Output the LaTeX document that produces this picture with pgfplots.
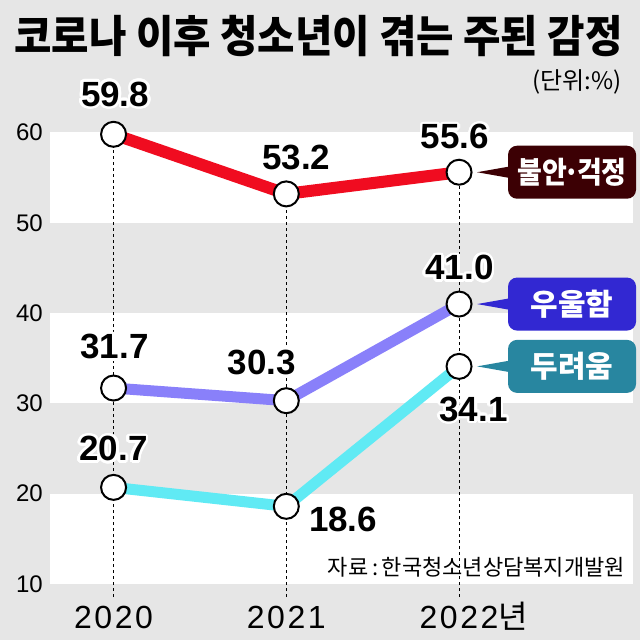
\documentclass[border=0pt]{standalone}
\usepackage{graphicx}
\usepackage{pgfplots}
\pgfplotsset{compat=1.18}
\usepackage{pgfplotstable}
\usepackage{fontspec}
\setmainfont{Liberation Sans}
\newfontfamily\kr{Noto Sans CJK KR}
\usepackage[copies]{contour}
\contourlength{2.6pt}
\contournumber{32}

\definecolor{bg}{RGB}{230,230,230}
\definecolor{cRed}{RGB}{240,12,32}
\definecolor{cPurple}{RGB}{137,128,250}
\definecolor{cCyan}{RGB}{96,234,244}
\definecolor{bRed}{RGB}{60,0,4}
\definecolor{bBlue}{RGB}{50,40,210}
\definecolor{bTeal}{RGB}{40,134,160}

\tikzset{
    lbl/.style={font=\fontsize{35}{35}\selectfont\bfseries, inner sep=0pt, anchor=center},
    box/.style={text=white, font=\kr\bfseries\fontsize{30}{30}\selectfont, minimum width=128pt, minimum height=53pt, rounded corners=9pt, inner sep=0pt, xshift=113pt},
    mk/.style={mark=*, mark size=12.5pt, mark options={fill=white, draw=black, line width=2pt, solid}},
}

\pgfplotstableread{
year anx dep fear
2020 59.8 31.7 20.7
2021 53.2 30.3 18.6
2022 55.6 41.0 34.1
}\datatable

\begin{document}
\begin{tikzpicture}
\fill[bg] (-50pt,-56pt) rectangle (590pt,584pt);
\begin{axis}[
    at={(0pt,0pt)}, anchor=south west,
    scale only axis,
    width=583pt, height=451.5pt,
    xmin=2019.632, xmax=2023.007,
    ymin=10, ymax=60,
    clip=false,
    axis line style={draw=none},
    major tick length=0pt,
    ytick={10,20,...,60},
    xtick={2020,2021,2022},
    xticklabels={2020,2021,{2022\rlap{\kr 년}}},
    /pgf/number format/assume math mode=true,
    yticklabel style={font=\fontsize{24}{24}\selectfont, anchor=east, inner sep=0pt, xshift=-7pt},
    xticklabel style={font=\fontsize{32}{32}\selectfont\addfontfeature{LetterSpace=8}, anchor=base, inner sep=0pt, yshift=-44pt},
]
% white bands
\fill[white] (axis cs:2019.632,10) rectangle (axis cs:2023.007,20);
\fill[white] (axis cs:2019.632,30) rectangle (axis cs:2023.007,40);
\fill[white] (axis cs:2019.632,50) rectangle (axis cs:2023.007,60);

% dashed drop lines
\addplot[black, line width=1pt, dash pattern=on 3pt off 3pt] coordinates {(2020,8.56) (2020,59.8)};
\addplot[black, line width=1pt, dash pattern=on 3pt off 3pt] coordinates {(2021,8.56) (2021,53.2)};
\addplot[black, line width=1pt, dash pattern=on 3pt off 3pt] coordinates {(2022,8.56) (2022,55.6)};

% series
\addplot[cRed, line width=12pt, mk] table[x=year, y=anx] {\datatable};
\addplot[cPurple, line width=11pt, mk] table[x=year, y=dep] {\datatable};
\addplot[cCyan, line width=11pt, mk] table[x=year, y=fear] {\datatable};

% value labels
\node[lbl, xshift=1.5pt, yshift=38.8pt] at (axis cs:2020,59.8) {\contour{white}{59.8}};
\node[lbl, xshift=10pt, yshift=35pt] at (axis cs:2021,53.2) {\contour{white}{53.2}};
\node[lbl, xshift=-4pt, yshift=34pt] at (axis cs:2022,55.6) {\contour{white}{55.6}};
\node[lbl, xshift=1pt, yshift=40pt] at (axis cs:2020,31.7) {\contour{white}{31.7}};
\node[lbl, xshift=-24.7pt, yshift=37.4pt] at (axis cs:2021,30.3) {\contour{white}{30.3}};
\node[lbl, xshift=0.5pt, yshift=35pt] at (axis cs:2022,41.0) {\contour{white}{41.0}};
\node[lbl, yshift=37.5pt] at (axis cs:2020,20.7) {\contour{white}{20.7}};
\node[lbl, xshift=56.8pt, yshift=-14.5pt] at (axis cs:2021,18.6) {\contour{white}{18.6}};
\node[lbl, xshift=14.5pt, yshift=-44pt] at (axis cs:2022,34.1) {\contour{white}{34.1}};

% series tags
\fill[bRed] ([xshift=18pt]axis cs:2022,55.6) -- ([xshift=52pt, yshift=6pt]axis cs:2022,55.6) -- ([xshift=52pt, yshift=-6pt]axis cs:2022,55.6) -- cycle;
\node[box, fill=bRed] at (axis cs:2022,55.6) {\scalebox{0.9}[1]{불안\kern-0.12em·\kern-0.12em걱정}};
\fill[bBlue] ([xshift=18pt]axis cs:2022,41.0) -- ([xshift=52pt, yshift=6pt]axis cs:2022,41.0) -- ([xshift=52pt, yshift=-6pt]axis cs:2022,41.0) -- cycle;
\node[box, fill=bBlue] at (axis cs:2022,41.0) {우울함};
\fill[bTeal] ([xshift=18pt]axis cs:2022,34.1) -- ([xshift=52pt, yshift=6pt]axis cs:2022,34.1) -- ([xshift=52pt, yshift=-6pt]axis cs:2022,34.1) -- cycle;
\node[box, fill=bTeal] at (axis cs:2022,34.1) {두려움};
\end{axis}

% title, unit, source
\node[font=\kr\bfseries\fontsize{44}{44}\selectfont, inner sep=0pt] at (268.5pt,548pt) {\scalebox{0.925}[1]{코로나 이후 청소년이 겪는 주된 감정}};
\node[anchor=east, font=\kr\fontsize{24}{24}\selectfont, inner sep=0pt] at (572pt,502.5pt) {(단위:\%)};
\node[anchor=east, font=\kr\fontsize{22}{22}\selectfont, inner sep=0pt] at (575pt,17pt) {자료\,:\,한국청소년상담복지개발원};

\pgfresetboundingbox
\path[use as bounding box] (-50pt,-56pt) rectangle (590pt,584pt);
\end{tikzpicture}
\end{document}
